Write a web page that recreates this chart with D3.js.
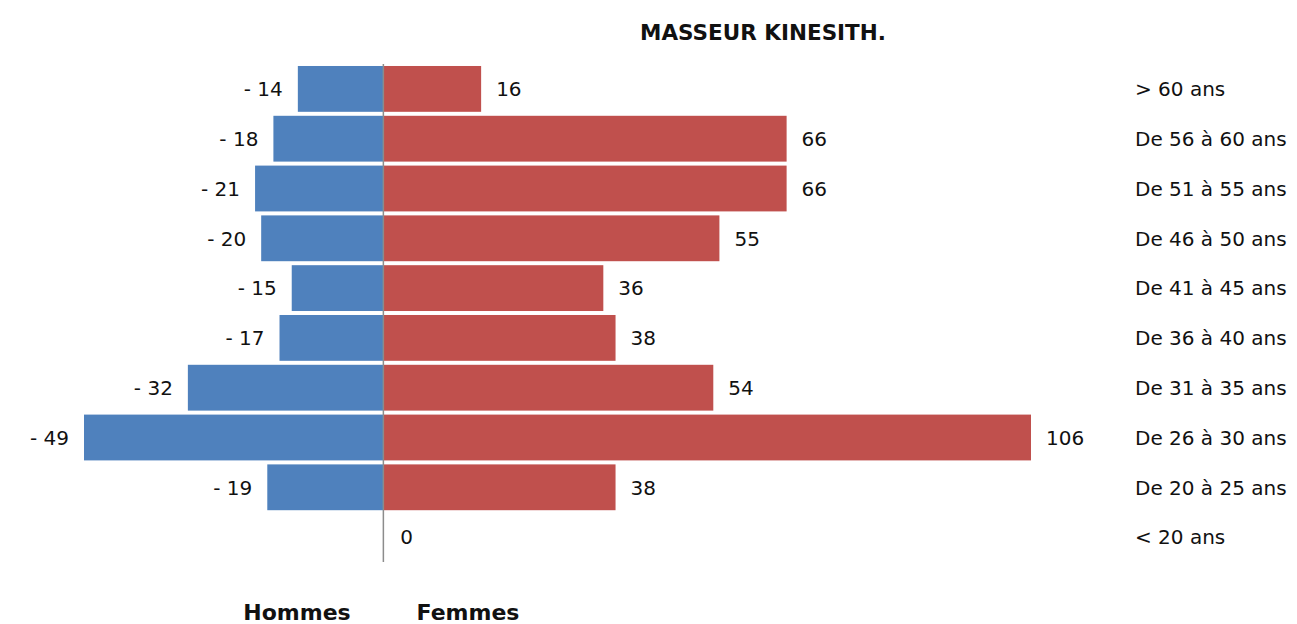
<!DOCTYPE html>
<html>
<head>
<meta charset="utf-8">
<script src="https://cdn.jsdelivr.net/npm/d3@7"></script>
<style>
  body { margin: 0; background: #fff; }
  text { font-family: "DejaVu Sans", sans-serif; fill: #111; }
</style>
</head>
<body>
<svg></svg>
<script>
const svg_width = 1297;
const svg_height = 624;

// tranches d'âge, du haut vers le bas
const categories = ["> 60 ans", "De 56 à 60 ans", "De 51 à 55 ans", "De 46 à 50 ans", "De 41 à 45 ans",
    "De 36 à 40 ans", "De 31 à 35 ans", "De 26 à 30 ans", "De 20 à 25 ans", "< 20 ans"];
const hommes = [-14, -18, -21, -20, -15, -17, -32, -49, -19, null];
const femmes = [16, 66, 66, 55, 36, 38, 54, 106, 38, 0];
const seriesNames = ["Hommes", "Femmes"];
const title = "MASSEUR KINESITH.";

const svg = d3.select("svg")
    .attr("width", svg_width)
    .attr("height", svg_height);

const xScale = d3.scaleLinear()
    .domain([-49, 106])
    .range([84, 1031]);

const yScale = d3.scaleBand()
    .domain(categories)
    .range([64, 562])
    .paddingInner(0.08)
    .paddingOuter(0.04);

const rows = categories.map((c, i) => ({cat: c, h: hommes[i], f: femmes[i]}));

// barres hommes
svg.append("g").selectAll("rect")
    .data(rows.filter(d => d.h != null))
    .enter()
    .append("rect")
    .attr("x", d => xScale(d.h))
    .attr("y", d => yScale(d.cat))
    .attr("width", d => xScale(0) - xScale(d.h))
    .attr("height", yScale.bandwidth())
    .attr("fill", "#4f81bd");

// barres femmes
svg.append("g").selectAll("rect")
    .data(rows)
    .enter()
    .append("rect")
    .attr("x", xScale(0))
    .attr("y", d => yScale(d.cat))
    .attr("width", d => xScale(d.f) - xScale(0))
    .attr("height", yScale.bandwidth())
    .attr("fill", "#c0504d");

// axe vertical
svg.append("line")
    .attr("x1", xScale(0)).attr("x2", xScale(0))
    .attr("y1", 64).attr("y2", 562)
    .attr("stroke", "#8c8c8c")
    .attr("stroke-width", 1.5);

const fontSize = 20;
const mid = d => yScale(d.cat) + yScale.bandwidth() / 2;

svg.append("g").selectAll("text")
    .data(rows.filter(d => d.h != null))
    .enter()
    .append("text")
    .attr("x", d => xScale(d.h) - 15)
    .attr("y", mid)
    .attr("dy", "0.36em")
    .attr("text-anchor", "end")
    .style("font-size", fontSize + "px")
    .text(d => "- " + Math.abs(d.h));

svg.append("g").selectAll("text")
    .data(rows)
    .enter()
    .append("text")
    .attr("x", d => xScale(d.f) + (d.f === 0 ? 17 : 15))
    .attr("y", mid)
    .attr("dy", "0.36em")
    .style("font-size", fontSize + "px")
    .text(d => d.f);

// libellés des tranches
svg.append("g").selectAll("text")
    .data(rows)
    .enter()
    .append("text")
    .attr("x", 1135)
    .attr("y", mid)
    .attr("dy", "0.36em")
    .style("font-size", fontSize + "px")
    .text(d => d.cat);

svg.append("text")
    .attr("x", 763)
    .attr("y", 32)
    .attr("dy", "0.35em")
    .attr("text-anchor", "middle")
    .style("font-size", "21.5px")
    .style("font-weight", "bold")
    .text(title);

svg.append("g").selectAll("text")
    .data(seriesNames)
    .enter()
    .append("text")
    .attr("x", (d, i) => i === 0 ? 297 : 468)
    .attr("y", 612)
    .attr("dy", "0.35em")
    .attr("text-anchor", "middle")
    .style("font-size", "22px")
    .style("font-weight", "bold")
    .text(d => d);
</script>
</body>
</html>
